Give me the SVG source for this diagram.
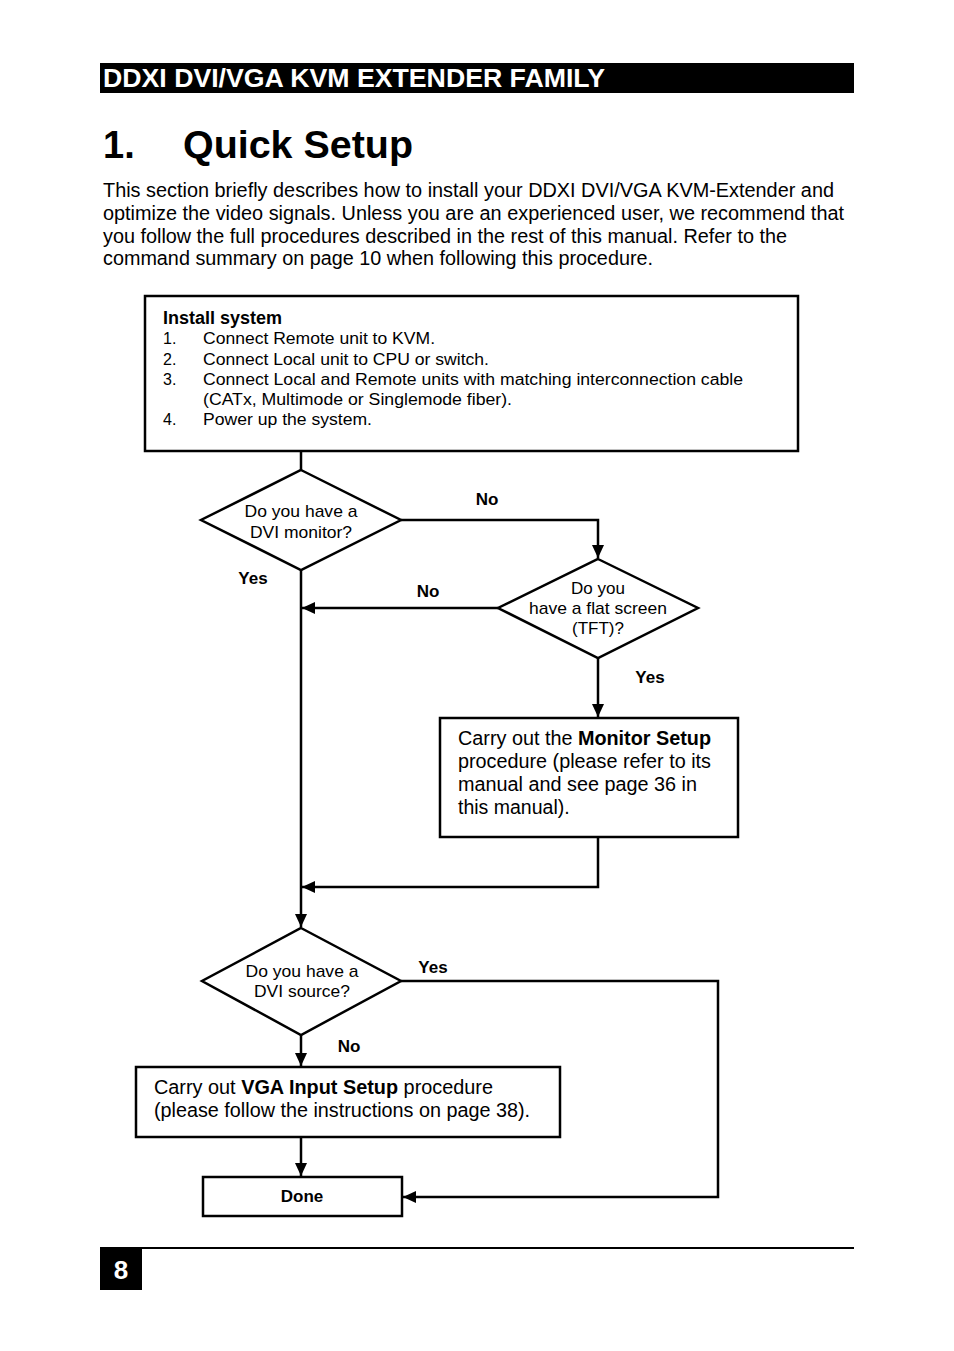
<svg xmlns="http://www.w3.org/2000/svg" width="954" height="1351" viewBox="0 0 954 1351">
<defs>
<style>
text{font-family:"Liberation Sans",Arial,sans-serif;fill:#000}
.b{font-weight:bold}
.box{fill:#fff;stroke:#000;stroke-width:2.5}
.c{fill:none;stroke:#000;stroke-width:2.5}
.lbl{font-size:17px;font-weight:bold}
.dt{font-size:17px;text-anchor:middle}
.p{font-size:19.5px}
.s{font-size:16px}
</style>
<marker id="ah" markerUnits="userSpaceOnUse" markerWidth="14" markerHeight="12" refX="13" refY="6" orient="auto">
<path d="M0,0 L13,6 L0,12 Z" fill="#000"/>
</marker>
</defs>
<rect width="954" height="1351" fill="#fff"/>
<g id="header">
<rect x="100" y="63" width="754" height="30" fill="#000"/>
<text x="103" y="87" class="b" font-size="26" style="fill:#fff" textLength="502" lengthAdjust="spacingAndGlyphs">DDXI DVI/VGA KVM EXTENDER FAMILY</text>
<text x="103" y="158" class="b" font-size="38">1.</text>
<text x="183" y="158" class="b" font-size="38" textLength="230" lengthAdjust="spacingAndGlyphs">Quick Setup</text>
<text x="103" y="197" class="p" textLength="731" lengthAdjust="spacingAndGlyphs">This section briefly describes how to install your DDXI DVI/VGA KVM-Extender and</text>
<text x="103" y="220" class="p" textLength="741" lengthAdjust="spacingAndGlyphs">optimize the video signals. Unless you are an experienced user, we recommend that</text>
<text x="103" y="243" class="p" textLength="684" lengthAdjust="spacingAndGlyphs">you follow the full procedures described in the rest of this manual. Refer to the</text>
<text x="103" y="265" class="p" textLength="550" lengthAdjust="spacingAndGlyphs">command summary on page 10 when following this procedure.</text>
</g>
<g id="connectors">
<path class="c" d="M301,451 V470"/>
<path class="c" d="M401,520 H598 V558" marker-end="url(#ah)"/>
<path class="c" d="M498,608 H302" marker-end="url(#ah)"/>
<path class="c" d="M301,570 V927" marker-end="url(#ah)"/>
<path class="c" d="M598,658 V717" marker-end="url(#ah)"/>
<path class="c" d="M598,837 V887 H302" marker-end="url(#ah)"/>
<path class="c" d="M401,981 H718 V1197 H403" marker-end="url(#ah)"/>
<path class="c" d="M301,1035 V1066" marker-end="url(#ah)"/>
<path class="c" d="M301,1137 V1176" marker-end="url(#ah)"/>
<text x="487" y="505" class="lbl" text-anchor="middle">No</text>
<text x="253" y="584" class="lbl" text-anchor="middle">Yes</text>
<text x="428" y="597" class="lbl" text-anchor="middle">No</text>
<text x="650" y="683" class="lbl" text-anchor="middle">Yes</text>
<text x="433" y="973" class="lbl" text-anchor="middle">Yes</text>
<text x="349" y="1052" class="lbl" text-anchor="middle">No</text>
</g>
<g id="install">
<rect class="box" x="145" y="296" width="653" height="155"/>
<text x="163" y="324" class="b" font-size="18">Install system</text>
<text x="163" y="344" class="s">1.</text><text x="203" y="344" class="s" textLength="232" lengthAdjust="spacingAndGlyphs">Connect Remote unit to KVM.</text>
<text x="163" y="365" class="s">2.</text><text x="203" y="365" class="s" textLength="286" lengthAdjust="spacingAndGlyphs">Connect Local unit to CPU or switch.</text>
<text x="163" y="385" class="s">3.</text><text x="203" y="385" class="s" textLength="540" lengthAdjust="spacingAndGlyphs">Connect Local and Remote units with matching interconnection cable</text>
<text x="203" y="405" class="s" textLength="309" lengthAdjust="spacingAndGlyphs">(CATx, Multimode or Singlemode fiber).</text>
<text x="163" y="425" class="s">4.</text><text x="203" y="425" class="s" textLength="169" lengthAdjust="spacingAndGlyphs">Power up the system.</text>
</g>
<g id="q-dvi-monitor">
<polygon class="box" points="301,470 401,520 301,570 201,520"/>
<text x="301" y="517" class="dt" textLength="113" lengthAdjust="spacingAndGlyphs">Do you have a</text>
<text x="301" y="538" class="dt" textLength="102" lengthAdjust="spacingAndGlyphs">DVI monitor?</text>
</g>
<g id="q-flat-screen">
<polygon class="box" points="598,559 698,608 598,658 498,608"/>
<text x="598" y="594" class="dt">Do you</text>
<text x="598" y="614" class="dt" textLength="138" lengthAdjust="spacingAndGlyphs">have a flat screen</text>
<text x="598" y="634" class="dt">(TFT)?</text>
</g>
<g id="monitor-setup">
<rect class="box" x="440" y="718" width="298" height="119"/>
<text x="458" y="745" class="p" textLength="253" lengthAdjust="spacingAndGlyphs">Carry out the <tspan class="b">Monitor Setup</tspan></text>
<text x="458" y="768" class="p" textLength="253" lengthAdjust="spacingAndGlyphs">procedure (please refer to its</text>
<text x="458" y="791" class="p" textLength="239" lengthAdjust="spacingAndGlyphs">manual and see page 36 in</text>
<text x="458" y="814" class="p">this manual).</text>
</g>
<g id="q-dvi-source">
<polygon class="box" points="301,928 401,981 301,1035 202,981"/>
<text x="302" y="977" class="dt" textLength="113" lengthAdjust="spacingAndGlyphs">Do you have a</text>
<text x="302" y="997" class="dt" textLength="96" lengthAdjust="spacingAndGlyphs">DVI source?</text>
</g>
<g id="vga-setup">
<rect class="box" x="136" y="1067" width="424" height="70"/>
<text x="154" y="1094" class="p" textLength="339" lengthAdjust="spacingAndGlyphs">Carry out <tspan class="b">VGA Input Setup</tspan> procedure</text>
<text x="154" y="1117" class="p" textLength="376" lengthAdjust="spacingAndGlyphs">(please follow the instructions on page 38).</text>
</g>
<g id="done">
<rect class="box" x="203" y="1177" width="199" height="39"/>
<text x="302" y="1202" class="lbl" text-anchor="middle">Done</text>
</g>
<g id="footer">
<line x1="100" y1="1248" x2="854" y2="1248" stroke="#000" stroke-width="2"/>
<rect x="100" y="1248" width="42" height="42" fill="#000"/>
<text x="121" y="1279" class="b" font-size="26" text-anchor="middle" style="fill:#fff">8</text>
</g>
</svg>
